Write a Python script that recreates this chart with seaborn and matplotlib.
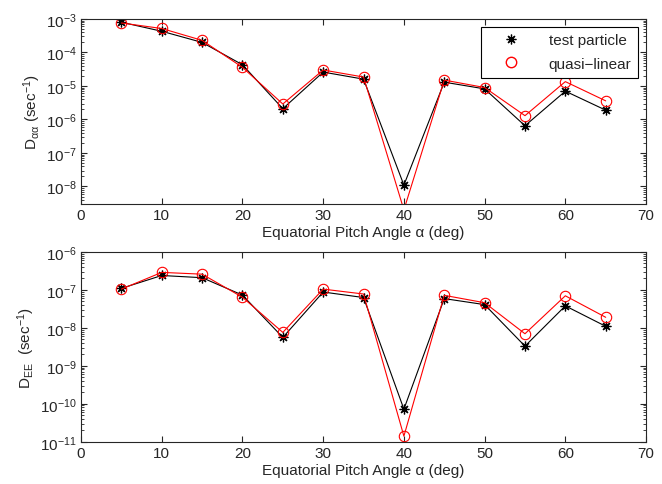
import numpy as np
import pandas as pd
import seaborn as sns
import matplotlib.pyplot as plt
from matplotlib.lines import Line2D
from matplotlib.ticker import LogLocator, NullFormatter

pitch = [5, 10, 15, 20, 25, 30, 35, 40, 45, 50, 55, 60, 65]

daa_test = [8.0e-4, 4.3e-4, 2.0e-4, 4.3e-5, 2.1e-6, 2.6e-5, 1.6e-5, 1.1e-8, 1.3e-5, 8.2e-6, 6.5e-7, 7.0e-6, 1.9e-6]
daa_ql = [7.6e-4, 5.2e-4, 2.3e-4, 3.6e-5, 2.9e-6, 3.0e-5, 1.85e-5, 2.0e-9, 1.5e-5, 9.0e-6, 1.3e-6, 1.35e-5, 3.6e-6]

dee_test = [1.1e-7, 2.4e-7, 2.1e-7, 7.3e-8, 5.6e-9, 8.8e-8, 6.3e-8, 7.2e-11, 5.9e-8, 4.1e-8, 3.3e-9, 3.8e-8, 1.1e-8]
dee_ql = [1.05e-7, 2.9e-7, 2.6e-7, 6.4e-8, 7.6e-9, 1.05e-7, 7.8e-8, 1.4e-11, 7.2e-8, 4.6e-8, 7.0e-9, 7.0e-8, 1.9e-8]

labels = ["test particle", "quasi\u2212linear"]

sns.set_style("ticks")
plt.rcParams['font.family'] = ['Liberation Sans', 'DejaVu Sans']
plt.rcParams['mathtext.default'] = 'regular'
plt.rcParams['font.size'] = 11

star = (8, 2, 0)  # MATLAB-style asterisk

fig = plt.figure(figsize=(6.62, 4.85), dpi=100)
ax1 = fig.add_axes([0.1224, 0.5773, 0.8535, 0.3815])
ax2 = fig.add_axes([0.1224, 0.0872, 0.8535, 0.3912])

panels = [
    (ax1, daa_test, daa_ql, (3.0e-9, 1e-3), r"D$_{\alpha\alpha}$ (sec$^{-1}$)"),
    (ax2, dee_test, dee_ql, (1e-11, 1e-6), r"D$_{EE}$  (sec$^{-1}$)"),
]

for ax, test, ql, ylim, ylab in panels:
    df = pd.DataFrame({"angle": pitch, "test": test, "ql": ql})
    sns.lineplot(data=df, x="angle", y="test", ax=ax, color="k", lw=0.8,
                 marker=star, markersize=7, mec="k", mfc="k", mew=0.9)
    sns.lineplot(data=df, x="angle", y="ql", ax=ax, color="red", lw=0.8,
                 marker="o", markersize=7.5, mec="red", mfc="none", mew=0.8)
    ax.set_yscale("log")
    ax.set_xlim(0, 70)
    ax.set_ylim(*ylim)
    ax.set_xticks(range(0, 71, 10))
    ax.yaxis.set_major_locator(LogLocator(base=10, numticks=20))
    ax.yaxis.set_minor_locator(LogLocator(base=10, subs=np.arange(2, 10), numticks=20))
    ax.yaxis.set_minor_formatter(NullFormatter())
    ax.tick_params(which="both", direction="in", top=True, right=True, labelsize=11, pad=3)
    ax.tick_params(which="major", length=4)
    ax.tick_params(which="minor", length=2)
    for s in ax.spines.values():
        s.set_linewidth(0.8)
        s.set_visible(True)
    ax.set_xlabel("Equatorial Pitch Angle \u03b1 (deg)", fontsize=11, labelpad=2)
    ax.set_ylabel(ylab, fontsize=11, labelpad=2)

handles = [
    Line2D([], [], ls="none", marker=star, color="k", mew=0.9, markersize=7),
    Line2D([], [], ls="none", marker="o", mfc="none", mec="red", markersize=7.5),
]
leg = ax1.legend(handles, labels, loc="upper right", fontsize=11, frameon=True,
                 fancybox=False, edgecolor="k", framealpha=1, borderaxespad=0.5,
                 borderpad=0.45, handlelength=3.0, handletextpad=1.0, labelspacing=0.6)
leg.get_frame().set_linewidth(0.8)

fig.savefig("out.png", dpi=100)
